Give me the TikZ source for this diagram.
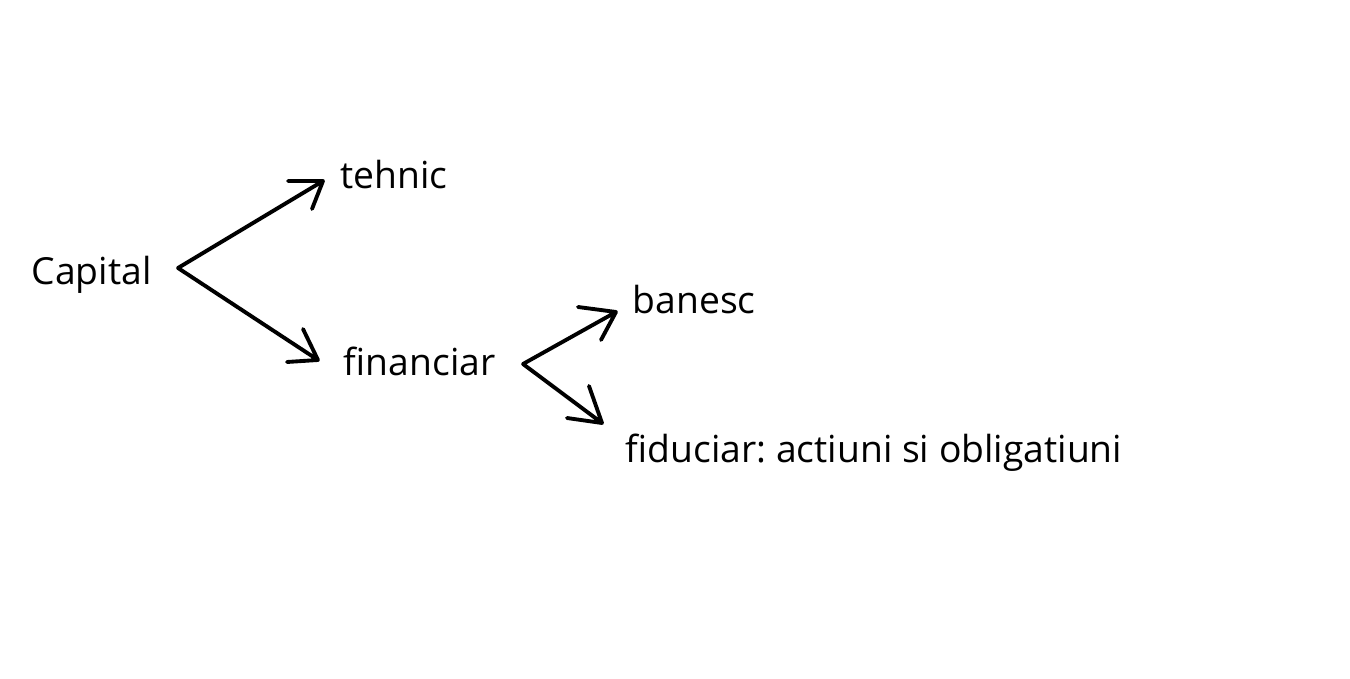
\documentclass[tikz,border=0pt]{standalone}
\usepackage{fontspec}
\setmainfont{Open Sans}
\frenchspacing
\begin{document}
\begin{tikzpicture}[x=0.01cm,y=-0.01cm,
  lbl/.style={inner sep=0pt,anchor=base west,font=\fontsize{10.6pt}{12pt}\selectfont},
  con/.style={draw=black,line width=1.1pt,line cap=round,line join=round}]
\useasboundingbox (0,0) rectangle (1350,679);
\fill[white] (0,0) rectangle (1350,679);
\node[lbl] (cap) at (31,285) {Capital};
\node[lbl] (teh) at (340,189) {tehnic};
\node[lbl] (fin) at (343,376) {financiar};
\node[lbl] (ban) at (632,314) {banesc};
\node[lbl] (fid) at (625,463) {fiduciar: actiuni si obligatiuni};
% connector points
\coordinate (s1) at (178,268);
\coordinate (t1) at (323,181);
\coordinate (t2) at (318,360);
\coordinate (s3) at (523,364);
\coordinate (t3) at (616,312);
\coordinate (t4) at (602,423);
\path[con] (s1) -- (t1) (288,181) -- (t1) -- (312,209);
\path[con] (s1) -- (t2) (287,362) -- (t2) -- (303,329);
\path[con] (s3) -- (t3) (578,307) -- (t3) -- (601,340);
\path[con] (s3) -- (t4) (567,418) -- (t4) -- (589,386);
\end{tikzpicture}
\end{document}
